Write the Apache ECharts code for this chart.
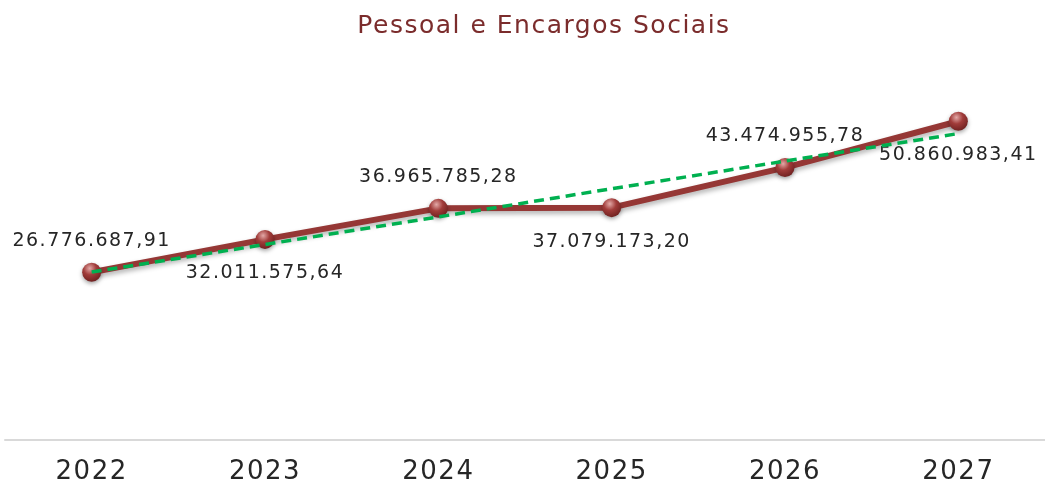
<!DOCTYPE html>
<html>
<head>
<meta charset="utf-8">
<script src="https://cdn.jsdelivr.net/npm/echarts@6/dist/echarts.min.js"></script>
<style>
html,body{margin:0;padding:0;background:#fff;}
#chart{width:1045px;height:485px;}
</style>
</head>
<body>
<div id="chart"></div>
<script>
// values
var years = ['2022', '2023', '2024', '2025', '2026', '2027'];
var valores = [26776687.91, 32011575.64, 36965785.28, 37079173.20, 43474955.78, 50860983.41];
var rotulos = ['26.776.687,91', '32.011.575,64', '36.965.785,28', '37.079.173,20', '43.474.955,78', '50.860.983,41'];
var labelPos = ['top', 'bottom', 'top', 'bottom', 'top', 'bottom'];
// linear trend as drawn (approx.)
var tendencia = [26800000, 31200000, 35600000, 40100000, 44500000, 48900000];

// the original text is drawn with wide letter spacing
var proto = CanvasRenderingContext2D.prototype;
var fillOrig = proto.fillText;
proto.fillText = function () {
  this.letterSpacing = '1.5px';
  return fillOrig.apply(this, arguments);
};

var chart = echarts.init(document.getElementById('chart'));

var pontos = valores.map(function (v, i) {
  return {
    value: v,
    label: {
      position: labelPos[i],
      distance: labelPos[i] == 'top' ? 12 : 15
    }
  };
});

chart.setOption({
  animation: false,
  title: {
    text: 'Pessoal e Encargos Sociais',
    left: 539,
    top: 9,
    textAlign: 'center',
    textStyle: {
      color: '#7b2c2c',
      fontFamily: 'DejaVu Sans',
      fontWeight: 'normal',
      fontSize: 25
    }
  },
  grid: {left: 5, top: 64, bottom: 45, width: 1044},
  xAxis: {
    type: 'category',
    data: years,
    axisLine: {lineStyle: {color: '#d9d9d9', width: 2}},
    axisTick: {show: false},
    axisLabel: {
      color: '#262626',
      fontSize: 26,
      fontFamily: 'DejaVu Sans',
      margin: 19
    }
  },
  yAxis: {
    type: 'value',
    min: 0,
    max: 60000000,
    show: false,
    splitLine: {show: false}
  },
  series: [{
    type: 'line',
    data: pontos,
    symbol: 'circle',
    symbolSize: 19,
    lineStyle: {
      color: '#953735',
      width: 6,
      shadowColor: 'rgba(0,0,0,0.3)',
      shadowBlur: 5,
      shadowOffsetY: 3
    },
    itemStyle: {
      color: new echarts.graphic.RadialGradient(0.4, 0.3, 0.75, [
        {offset: 0, color: '#e3a9a7'},
        {offset: 0.45, color: '#a13c3a'},
        {offset: 1, color: '#6b1f1e'}
      ]),
      shadowColor: 'rgba(0,0,0,0.35)',
      shadowBlur: 4,
      shadowOffsetY: 2
    },
    label: {
      show: true,
      color: '#262626',
      fontSize: 19,
      fontFamily: 'DejaVu Sans',
      formatter: function (p) { return rotulos[p.dataIndex]; }
    },
    z: 2
  }, {
    type: 'line',
    data: tendencia,
    symbol: 'none',
    lineStyle: {color: '#00b050', width: 3.5, type: [10, 6]},
    z: 3
  }]
});
</script>
</body>
</html>
